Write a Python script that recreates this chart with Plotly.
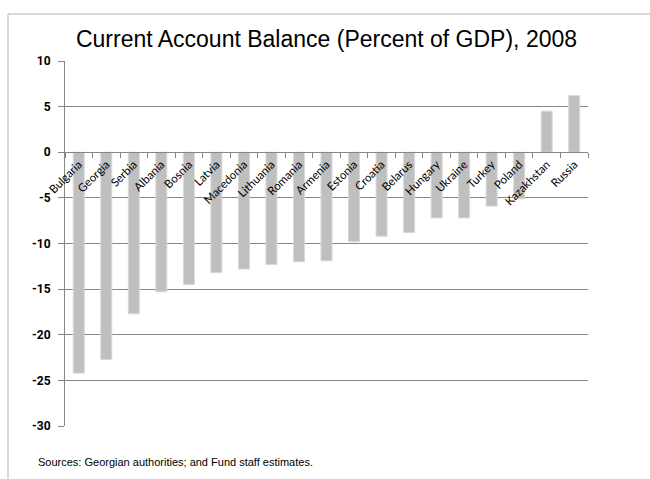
import plotly.graph_objects as go

countries = ["Bulgaria", "Georgia", "Serbia", "Albania", "Bosnia", "Latvia", "Macedonia",
             "Lithuania", "Romania", "Armenia", "Estonia", "Croatia", "Belarus", "Hungary",
             "Ukraine", "Turkey", "Poland", "Kazakhstan", "Russia"]
balance = [-24.2, -22.7, -17.7, -15.3, -14.5, -13.2, -12.8, -12.3, -12.0, -11.9,
           -9.8, -9.2, -8.8, -7.2, -7.2, -5.9, -5.1, 4.5, 6.2]
y_ticks = [10, 5, 0, -5, -10, -15, -20, -25, -30]

W, H = 650, 479
L, R, T, B = 65, 62, 61, 53
pw, ph = W - L - R, H - T - B

def px_x(p):
    return (p - L) / pw

def px_y(p):
    return (H - B - p) / ph

fig = go.Figure()
fig.add_trace(go.Bar(
    x=countries, y=balance,
    marker=dict(color="#BFBFBF", line=dict(color="#D9D9D9", width=1)),
    showlegend=False,
))

ymin, ymax = min(y_ticks), max(y_ticks)
zero_pos = (0 - ymin) / (ymax - ymin)

fig.update_layout(
    width=W, height=H,
    margin=dict(l=L, r=R, t=T, b=B),
    paper_bgcolor="white", plot_bgcolor="white",
    bargap=0.6,
    title=dict(text="Current Account Balance (Percent of GDP), 2008",
               x=0.5, xanchor="center", xref="paper",
               y=1 - 39 / H, yanchor="middle",
               font=dict(family="Liberation Sans, Arial", size=23, color="#000000")),
    xaxis=dict(
        anchor="free", position=zero_pos,
        showline=True, linecolor="#868686", linewidth=1,
        ticks="outside", ticklen=5, tickcolor="#868686", tickson="boundaries",
        tickangle=-45, showgrid=False,
        tickfont=dict(family="Lato, Open Sans", size=11.5, color="#000000"),
    ),
    yaxis=dict(
        range=[ymin, ymax], tickvals=y_ticks, ticktext=["<b>%d</b>" % v for v in y_ticks],
        showline=True, linecolor="#868686", linewidth=1,
        ticks="outside", ticklen=6, tickcolor="#868686", ticklabelstandoff=5,
        showgrid=True, gridcolor="#868686", gridwidth=1, zeroline=False,
        tickfont=dict(family="Roboto", size=12, color="#000000", weight="bold"),
    ),
    annotations=[dict(
        text="Sources: Georgian authorities; and Fund staff estimates.",
        xref="paper", yref="paper", x=px_x(36), y=px_y(462),
        xanchor="left", yanchor="middle", showarrow=False,
        font=dict(family="Liberation Sans, Arial", size=11, color="#000000"),
    )],
    shapes=[
        dict(type="line", xref="paper", yref="paper",
             x0=px_x(8), x1=px_x(W), y0=px_y(14), y1=px_y(14),
             line=dict(color="#D9D9D9", width=2), layer="below"),
        dict(type="line", xref="paper", yref="paper",
             x0=px_x(8), x1=px_x(8), y0=px_y(14), y1=px_y(H),
             line=dict(color="#D9D9D9", width=2), layer="below"),
    ],
)

fig.write_html("out.html")
